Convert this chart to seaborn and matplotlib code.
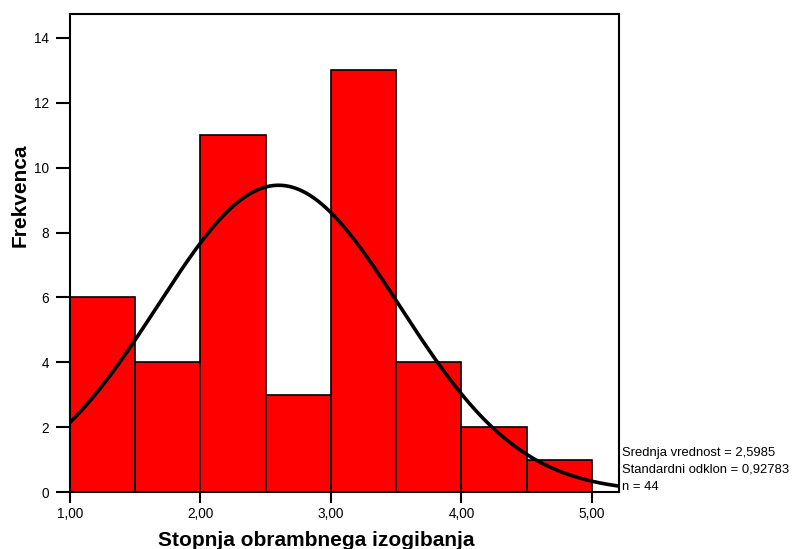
import numpy as np
import matplotlib
matplotlib.use("Agg")
import matplotlib.pyplot as plt
import seaborn as sns

# histogram bins (edges) and frequencies
bin_edges = [1.0, 1.5, 2.0, 2.5, 3.0, 3.5, 4.0, 4.5, 5.0]
counts = [6, 4, 11, 3, 13, 4, 2, 1]
mean_val = 2.5985
sd_val = 0.92783
n_total = 44

x_ticks = [1.0, 2.0, 3.0, 4.0, 5.0]
x_tick_labels = ["1,00", "2,00", "3,00", "4,00", "5,00"]
y_ticks = [0, 2, 4, 6, 8, 10, 12, 14]

sns.set_theme(style="white")
plt.rcParams['font.family'] = ['Liberation Sans', 'DejaVu Sans']

W, H = 793, 549
fig = plt.figure(figsize=(W / 100, H / 100), dpi=100)
ax = fig.add_axes([70 / W, 1 - 492 / H, 549 / W, 478 / H])

centers = [(a + b) / 2 for a, b in zip(bin_edges[:-1], bin_edges[1:])]
sns.histplot(x=centers, weights=counts, bins=bin_edges, color="#ff0000",
             alpha=1.0, edgecolor="black", linewidth=1.2, ax=ax)

# normal curve scaled to the histogram
x_lo, x_hi = 1.0, 5.207
xs = np.linspace(x_lo, x_hi, 300)
bw = bin_edges[1] - bin_edges[0]
ys = n_total * bw / (sd_val * np.sqrt(2 * np.pi)) * np.exp(-0.5 * ((xs - mean_val) / sd_val) ** 2)
sns.lineplot(x=xs, y=ys, color="black", linewidth=2.6, ax=ax)

ax.set_xlim(x_lo, x_hi)
ax.set_ylim(0, 14.74)
ax.set_xticks(x_ticks)
ax.set_xticklabels(x_tick_labels)
ax.set_yticks(y_ticks)
ax.tick_params(axis="x", direction="out", length=8, width=1.5,
               labelsize=9.8, colors="black", pad=3, bottom=True)
ax.tick_params(axis="y", direction="out", length=10, width=1.5,
               labelsize=9.8, colors="black", pad=5, left=True)
for side in ax.spines.values():
    side.set_linewidth(1.5)
    side.set_color("black")

ax.set_xlabel("")
ax.set_ylabel("")
fig.text(316 / W, 1 - 540 / H, "Stopnja obrambnega izogibanja", fontsize=15,
         fontweight="bold", color="black", ha="center", va="center")
fig.text(20 / W, 1 - 195 / H, "Frekvenca", fontsize=15, fontweight="bold",
         color="black", ha="center", va="center", rotation=90)

stats = ["Srednja vrednost = 2,5985", "Standardni odklon = 0,92783", "n = 44"]
for i, s in enumerate(stats):
    fig.text(622 / W, 1 - (453 + 17 * i) / H, s, fontsize=9.4,
             ha="left", va="center", color="black")

fig.savefig("out.png", dpi=100)
